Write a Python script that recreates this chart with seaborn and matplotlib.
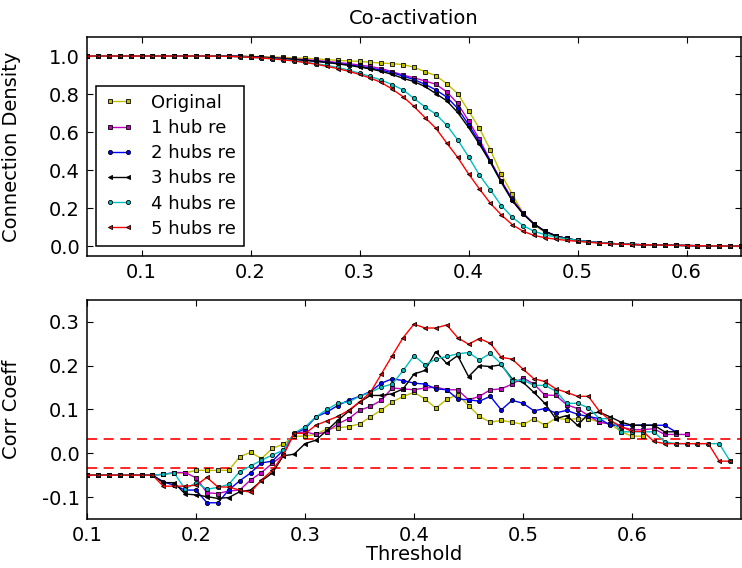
import numpy as np
import matplotlib
matplotlib.use("Agg")
import matplotlib.pyplot as plt
import seaborn as sns

# --- Data ---
series_names = ["Original", "1 hub re", "2 hubs re", "3 hubs re", "4 hubs re", "5 hubs re"]
series_colors = [(0.75, 0.75, 0.0), (0.75, 0.0, 0.75), (0.0, 0.0, 1.0), (0.0, 0.0, 0.0), (0.0, 0.75, 0.75), (1.0, 0.0, 0.0)]
series_markers = ["s", "s", "o", "<", "o", "<"]

thresholds_top = np.round(np.arange(0.05, 0.6501, 0.01), 2)
thresholds_bottom = np.round(np.arange(0.10, 0.6901, 0.01), 2)

tail_a = [0.042, 0.032, 0.025, 0.020, 0.016, 0.013, 0.011, 0.009, 0.008, 0.007, 0.006, 0.005, 0.004, 0.003, 0.003, 0.002, 0.002]

density_original = [1.0] * 14 + [
    0.999, 0.998, 0.997, 0.995, 0.993, 0.990, 0.988, 0.985, 0.981,
    0.977, 0.974, 0.972, 0.967, 0.963, 0.960, 0.955, 0.941, 0.918, 0.897, 0.855,
    0.803, 0.712, 0.620, 0.508, 0.379, 0.276, 0.175, 0.113, 0.075, 0.049,
    0.038, 0.030, 0.024, 0.019, 0.016, 0.013, 0.011, 0.009, 0.008, 0.007,
    0.006, 0.005, 0.004, 0.003, 0.003, 0.002, 0.002]
density_1hub = [1.0] * 13 + [
    0.999, 0.998, 0.996, 0.994, 0.991, 0.988, 0.985, 0.981, 0.977, 0.972,
    0.966, 0.960, 0.953, 0.945, 0.934, 0.918, 0.900, 0.886, 0.869, 0.852,
    0.812, 0.751, 0.660, 0.562, 0.450, 0.346, 0.250, 0.175, 0.119, 0.080, 0.056] + tail_a
density_2hubs = [1.0] * 13 + [
    0.999, 0.998, 0.996, 0.993, 0.990, 0.986, 0.982, 0.978, 0.973, 0.967,
    0.961, 0.954, 0.946, 0.937, 0.926, 0.912, 0.895, 0.876, 0.852, 0.822,
    0.785, 0.725, 0.640, 0.548, 0.448, 0.342, 0.245, 0.172, 0.118, 0.080, 0.056] + tail_a
density_3hubs = [1.0] * 13 + [
    0.999, 0.998, 0.996, 0.993, 0.990, 0.986, 0.982, 0.977, 0.972, 0.966,
    0.959, 0.951, 0.942, 0.932, 0.920, 0.903, 0.883, 0.866, 0.840, 0.803,
    0.765, 0.704, 0.625, 0.537, 0.442, 0.337, 0.241, 0.171, 0.119, 0.080, 0.056] + tail_a
density_4hubs = [1.0] * 12 + [
    0.999, 0.998, 0.996, 0.993, 0.990, 0.986, 0.981, 0.975, 0.968, 0.960,
    0.951, 0.940, 0.926, 0.910, 0.893, 0.873, 0.850, 0.822, 0.777, 0.733,
    0.695, 0.637, 0.560, 0.471, 0.375, 0.297, 0.215, 0.154, 0.110, 0.080,
    0.062, 0.049,
    0.040, 0.032, 0.025, 0.020, 0.016, 0.013, 0.011, 0.009, 0.008, 0.007,
    0.006, 0.005, 0.004, 0.003, 0.003, 0.002, 0.002]
density_5hubs = [1.0] * 12 + [
    0.999, 0.998, 0.996, 0.993, 0.990, 0.985, 0.980, 0.974, 0.966, 0.957,
    0.946, 0.934, 0.920, 0.903, 0.884, 0.861, 0.826, 0.786, 0.735, 0.677,
    0.621, 0.543, 0.468, 0.381, 0.302, 0.227, 0.166, 0.115, 0.080, 0.058,
    0.046, 0.038,
    0.032, 0.027, 0.022, 0.018, 0.015, 0.012, 0.010, 0.009, 0.008, 0.007,
    0.006, 0.005, 0.004, 0.003, 0.003, 0.002, 0.002]

corr_original = [-0.05] * 7 + [
    -0.048, -0.045, -0.045,
    -0.039, -0.039, -0.039, -0.039, -0.008, 0.002, -0.012, 0.011, 0.021, 0.039,
    0.039, 0.043, 0.056, 0.058, 0.061, 0.067, 0.083, 0.099, 0.117, 0.130,
    0.139, 0.124, 0.103, 0.123, 0.134, 0.109, 0.084, 0.071, 0.075, 0.071,
    0.066, 0.079, 0.064, 0.080, 0.077, 0.079, 0.079, 0.071, 0.067, 0.049,
    0.039, 0.039]
corr_1hub = [-0.05] * 7 + [
    -0.048, -0.044, -0.044,
    -0.056, -0.090, -0.092, -0.086, -0.084, -0.061, -0.044, -0.023, -0.004, 0.045,
    0.049, 0.043, 0.049, 0.067, 0.079, 0.098, 0.107, 0.121, 0.149, 0.147,
    0.145, 0.149, 0.151, 0.145, 0.145, 0.122, 0.130, 0.145, 0.147, 0.158,
    0.172, 0.158, 0.133, 0.132, 0.111, 0.102, 0.086, 0.071, 0.067, 0.060,
    0.054, 0.054, 0.056, 0.043, 0.043, 0.043]
corr_2hubs = [-0.05] * 7 + [
    -0.065, -0.073, -0.084,
    -0.084, -0.113, -0.113, -0.084, -0.063, -0.045, -0.022, -0.018, 0.007, 0.045,
    0.056, 0.083, 0.094, 0.109, 0.121, 0.130, 0.141, 0.160, 0.170, 0.166,
    0.160, 0.158, 0.147, 0.145, 0.124, 0.122, 0.119, 0.130, 0.099, 0.121,
    0.114, 0.097, 0.102, 0.092, 0.098, 0.089, 0.084, 0.079, 0.064, 0.064,
    0.064, 0.064, 0.064, 0.064, 0.049]
corr_3hubs = [-0.05] * 7 + [
    -0.067, -0.067, -0.093,
    -0.095, -0.099, -0.103, -0.101, -0.088, -0.084, -0.063, -0.045, -0.006, -0.002,
    0.022, 0.030, 0.052, 0.075, 0.096, 0.117, 0.132, 0.132, 0.136, 0.147,
    0.181, 0.189, 0.232, 0.205, 0.223, 0.175, 0.200, 0.198, 0.202, 0.170,
    0.162, 0.139, 0.114, 0.079, 0.086, 0.064, 0.090, 0.094, 0.083, 0.071,
    0.064, 0.064, 0.064, 0.049, 0.049]
corr_4hubs = [-0.05] * 7 + [
    -0.048, -0.045, -0.082,
    -0.067, -0.082, -0.078, -0.071, -0.042, -0.029, -0.016, -0.004, 0.007, 0.046,
    0.060, 0.083, 0.100, 0.114, 0.117, 0.130, 0.139, 0.151, 0.158, 0.189,
    0.223, 0.202, 0.215, 0.221, 0.227, 0.230, 0.213, 0.228, 0.204, 0.166,
    0.167, 0.155, 0.155, 0.142, 0.114, 0.114, 0.104, 0.079, 0.079, 0.049,
    0.049, 0.049, 0.049, 0.026, 0.022, 0.022, 0.022, 0.022, 0.022, -0.018]
corr_5hubs = [-0.05] * 7 + [
    -0.075, -0.075, -0.075,
    -0.073, -0.055, -0.077, -0.077, -0.084, -0.089, -0.061, -0.039, -0.004, 0.046,
    0.045, 0.064, 0.074, 0.084, 0.098, 0.117, 0.139, 0.181, 0.223, 0.264,
    0.295, 0.286, 0.286, 0.293, 0.264, 0.249, 0.262, 0.251, 0.219, 0.215,
    0.192, 0.170, 0.164, 0.147, 0.139, 0.130, 0.130, 0.096, 0.075, 0.061,
    0.050, 0.050, 0.027, 0.022, 0.022, 0.022, 0.022, 0.022, -0.018, -0.018]

significance_levels = [0.033, -0.033]

density_series = [density_original, density_1hub, density_2hubs, density_3hubs, density_4hubs, density_5hubs]
corr_series = [corr_original, corr_1hub, corr_2hubs, corr_3hubs, corr_4hubs, corr_5hubs]

# --- Style ---
sns.set_style("ticks")
plt.rcParams["font.family"] = ["DejaVu Sans"]
plt.rcParams["axes.edgecolor"] = "black"
plt.rcParams["axes.linewidth"] = 1.1
plt.rcParams["text.color"] = "black"
plt.rcParams["axes.labelcolor"] = "black"
plt.rcParams["xtick.color"] = "black"
plt.rcParams["ytick.color"] = "black"

fig = plt.figure(figsize=(7.42, 5.68), dpi=100)
ax_top = fig.add_axes([0.1173, 0.5493, 0.8814, 0.3856])
ax_bot = fig.add_axes([0.1173, 0.0863, 0.8814, 0.3856])

line_kw = dict(linewidth=1.0, markersize=3.0, markeredgecolor="black", markeredgewidth=0.6)

for name, color, marker, ys in zip(series_names, series_colors, series_markers, density_series):
    sns.lineplot(x=thresholds_top[:len(ys)], y=ys, ax=ax_top, color=color, marker=marker,
                 label=name, estimator=None, sort=False, **line_kw)

for name, color, marker, ys in zip(series_names, series_colors, series_markers, corr_series):
    sns.lineplot(x=thresholds_bottom[:len(ys)], y=ys, ax=ax_bot, color=color, marker=marker,
                 estimator=None, sort=False, legend=False, **line_kw)

for level in significance_levels:
    ax_bot.axhline(level, color="red", linestyle="--", linewidth=1.2, dashes=(6, 4), zorder=1)

# --- Axes formatting ---
ax_top.set_xlim(0.05, 0.65)
ax_top.set_ylim(-0.05, 1.1)
ax_top.set_xticks([0.1, 0.2, 0.3, 0.4, 0.5, 0.6])
ax_top.set_yticks([0.0, 0.2, 0.4, 0.6, 0.8, 1.0])
ax_top.set_title("Co-activation", fontsize=14, pad=9)
ax_top.set_ylabel("Connection Density", fontsize=14)

ax_bot.set_xlim(0.1, 0.7)
ax_bot.set_ylim(-0.15, 0.35)
ax_bot.set_xticks([0.1, 0.2, 0.3, 0.4, 0.5, 0.6])
ax_bot.set_yticks([-0.1, 0.0, 0.1, 0.2, 0.3])
ax_bot.set_ylabel("Corr Coeff", fontsize=14)
ax_bot.set_xlabel("Threshold", fontsize=14, labelpad=0)

for ax in (ax_top, ax_bot):
    ax.xaxis.set_major_formatter(matplotlib.ticker.FormatStrFormatter("%.1f"))
    ax.yaxis.set_major_formatter(matplotlib.ticker.FormatStrFormatter("%.1f"))
    ax.tick_params(direction="in", length=4, width=0.8, top=True, right=True,
                   labelsize=14, pad=5)
    for spine in ax.spines.values():
        spine.set_visible(True)
        spine.set_color("black")
    ax.yaxis.set_label_coords(-0.101, 0.5)

leg = ax_top.legend(loc="lower left", bbox_to_anchor=(0.014, 0.046), borderaxespad=0,
                    frameon=True, fancybox=False, framealpha=1, edgecolor="black",
                    handlelength=1.6, handletextpad=1.0, numpoints=2, fontsize=13,
                    labelspacing=0.4, borderpad=0.45)
leg.get_frame().set_linewidth(1.1)

fig.savefig("out.png", dpi=100)
